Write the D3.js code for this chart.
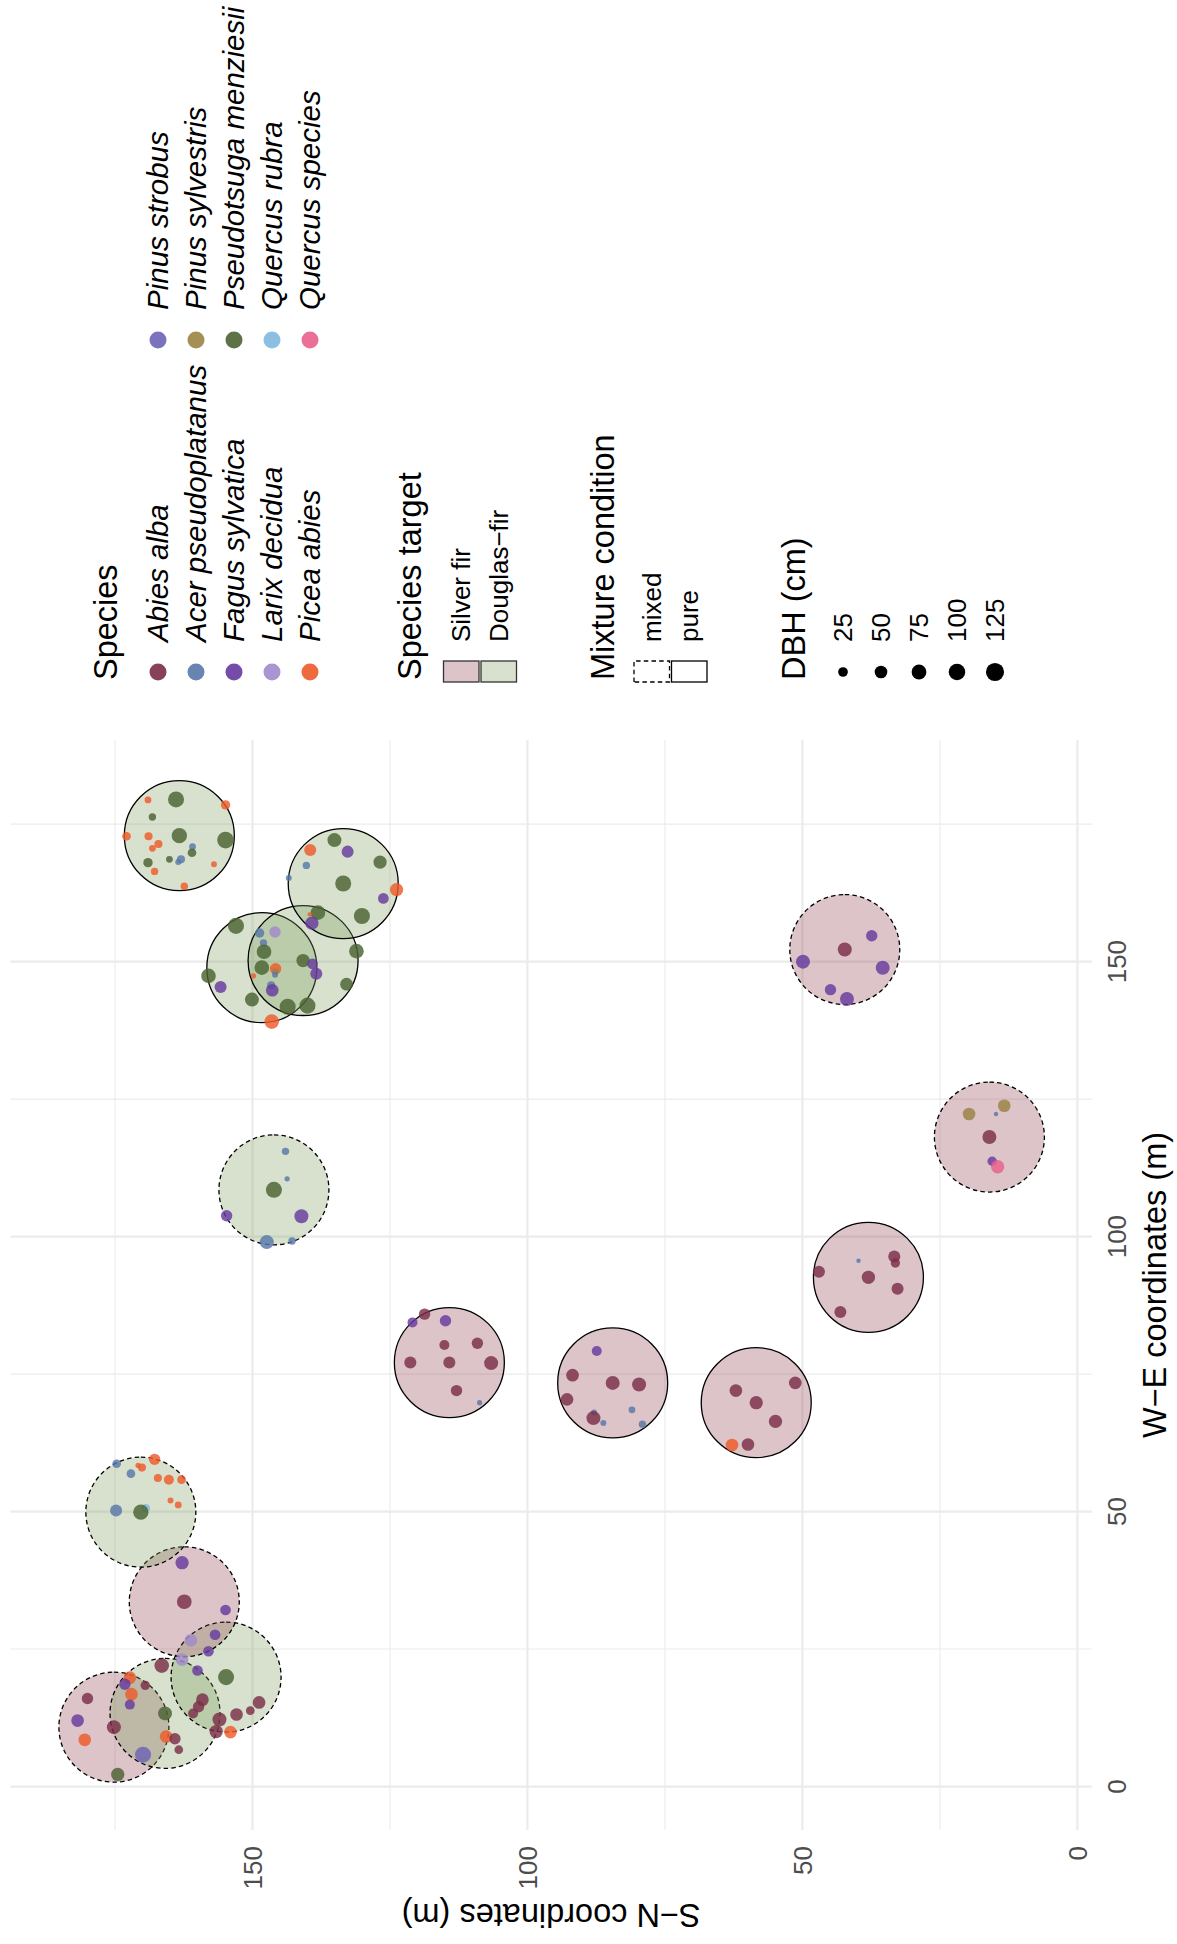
<!DOCTYPE html>
<html>
<head>
<meta charset="utf-8">
<script src="https://cdn.jsdelivr.net/npm/d3@7"></script>
<style>
  body { margin: 0; background: #fff; }
  text { font-family: "Liberation Sans", Arial, sans-serif; }
</style>
</head>
<body>
<svg id="chart"></svg>
<script>
// species legend (two columns of five)
const speciesCodes = ["ABAL", "ACPS", "FASY", "LADE", "PIAB", "PIST", "PISY", "PSME", "QURU", "QUSP"];
const speciesNames = ["Abies alba", "Acer pseudoplatanus", "Fagus sylvatica", "Larix decidua", "Picea abies",
    "Pinus strobus", "Pinus sylvestris", "Pseudotsuga menziesii", "Quercus rubra", "Quercus species"];
const speciesColors = ["#7A2E48", "#5877A8", "#663A9E", "#A08ACB", "#EE5A2A",
    "#6B63B5", "#9A8343", "#4B6332", "#7FB8DE", "#E8618C"];

const targetNames = ["Silver fir", "Douglas−fir"];
const targetFills = ["#8B3A4A", "#7A9A5A"];
const mixtureNames = ["mixed", "pure"];
const dbhBreaks = [25, 50, 75, 100, 125];
const majorTicks = [0, 50, 100, 150];
const minorTicks = [25, 75, 125, 175];

// plots: centre W-E, centre S-N, target species, mixture
const plotWE = [10.8, 13.3, 19.9, 33.6, 49.9, 77.1, 73.4, 69.8, 92.6, 118.1, 152.2, 108.5, 148.9, 150.2, 164.2, 172.9];
const plotSN = [175.2, 165.9, 154.8, 162.4, 170.3, 114.2, 84.5, 58.4, 38.0, 16.0, 42.3, 146.1, 148.3, 140.8, 133.5, 163.3];
const plotTarget = ["Silver fir", "Douglas−fir", "Douglas−fir", "Silver fir", "Douglas−fir", "Silver fir", "Silver fir",
    "Silver fir", "Silver fir", "Silver fir", "Silver fir", "Douglas−fir", "Douglas−fir", "Douglas−fir", "Douglas−fir", "Douglas−fir"];
const plotMixture = ["mixed", "mixed", "mixed", "mixed", "mixed", "pure", "pure", "pure", "pure", "mixed", "mixed",
    "mixed", "pure", "pure", "pure", "pure"];
const plotRadius = 10;

// trees: species, W-E, S-N, DBH (cm)
const trees = [
    // south-west group
    ["FASY", 40.7, 162.8, 57], ["ABAL", 33.6, 162.4, 73], ["FASY", 32.1, 154.9, 32], ["LADE", 26.6, 161.2, 50],
    ["FASY", 27.6, 156.8, 32], ["FASY", 24.6, 158.0, 32], ["LADE", 23.1, 162.8, 50], ["ABAL", 22.0, 166.5, 73],
    ["FASY", 21.1, 160.0, 32], ["PSME", 19.9, 154.8, 92], ["PIAB", 19.8, 172.3, 50], ["FASY", 18.6, 173.2, 38],
    ["ABAL", 18.4, 169.5, 23], ["PIAB", 16.8, 172.0, 50], ["ABAL", 16.0, 180.0, 38], ["FASY", 14.9, 172.3, 27],
    ["ABAL", 15.8, 159.1, 50], ["ABAL", 14.5, 159.8, 38], ["ABAL", 13.3, 160.8, 27], ["PSME", 13.3, 165.9, 65],
    ["FASY", 12.0, 181.8, 50], ["ABAL", 10.8, 175.2, 65], ["ABAL", 12.2, 156.0, 65], ["ABAL", 13.1, 152.9, 50],
    ["ABAL", 13.8, 150.4, 19], ["ABAL", 15.3, 148.8, 50], ["ABAL", 10.0, 156.6, 57], ["PIAB", 9.9, 154.0, 50],
    ["PIAB", 8.5, 180.5, 50], ["PIAB", 9.1, 165.7, 50], ["ABAL", 8.7, 164.1, 38], ["ABAL", 6.7, 163.4, 19],
    ["PIST", 5.8, 169.9, 92], ["PSME", 2.2, 174.5, 57],
    // plot at W-E 50
    ["ACPS", 58.7, 174.7, 19], ["PIAB", 59.5, 167.8, 38], ["PIAB", 58.0, 170.1, 16], ["PIAB", 58.4, 170.8, 8],
    ["ACPS", 56.9, 172.1, 19], ["PIAB", 56.1, 167.2, 16], ["PIAB", 55.8, 165.2, 27], ["PIAB", 55.8, 162.9, 19],
    ["PIAB", 52.0, 164.9, 9], ["PIAB", 51.2, 163.5, 11], ["ACPS", 50.2, 174.8, 44], ["QURU", 50.6, 169.4, 19],
    ["PSME", 49.9, 170.3, 82],
    // pure silver fir plots
    ["FASY", 84.4, 120.9, 27], ["ABAL", 85.9, 118.7, 38], ["FASY", 84.7, 114.9, 38], ["ABAL", 80.3, 115.1, 27],
    ["ABAL", 80.6, 109.1, 38], ["ABAL", 77.1, 121.3, 44], ["ABAL", 77.1, 114.2, 44], ["ABAL", 77.0, 106.6, 65],
    ["ABAL", 72.0, 112.9, 38], ["ACPS", 69.8, 108.7, 8],
    ["FASY", 79.2, 87.4, 27], ["ABAL", 74.8, 91.8, 50], ["ABAL", 73.4, 84.5, 65], ["ABAL", 73.1, 79.7, 65],
    ["ABAL", 70.4, 92.8, 50], ["ACPS", 68.0, 87.9, 9], ["ACPS", 68.5, 81.0, 11], ["ABAL", 67.0, 88.0, 65],
    ["ACPS", 66.1, 86.2, 9], ["ACPS", 65.9, 79.1, 13],
    ["ABAL", 72.0, 62.1, 50], ["ABAL", 69.8, 58.4, 57], ["ABAL", 73.4, 51.3, 50], ["ABAL", 66.4, 54.9, 57],
    ["ABAL", 62.2, 59.9, 50], ["PIAB", 62.1, 62.8, 50],
    ["ACPS", 95.6, 39.8, 7.5], ["ABAL", 96.4, 33.3, 44], ["ABAL", 95.2, 33.1, 23], ["ABAL", 93.6, 47.0, 44],
    ["ABAL", 92.6, 38.0, 57], ["ABAL", 90.5, 32.7, 44], ["ABAL", 86.3, 43.1, 44],
    // mixed silver fir plots
    ["PISY", 122.3, 19.7, 50], ["PISY", 123.8, 13.3, 50], ["ACPS", 122.3, 14.8, 7.5], ["ABAL", 118.1, 16.0, 65],
    ["FASY", 113.7, 15.5, 23], ["QUSP", 112.7, 14.5, 57],
    ["FASY", 154.7, 37.4, 38], ["ABAL", 152.2, 42.3, 65], ["FASY", 150.0, 49.9, 65], ["FASY", 148.9, 35.4, 65],
    ["FASY", 144.9, 44.9, 38], ["FASY", 143.2, 41.9, 65],
    // douglas-fir plot at W-E 108
    ["ACPS", 115.5, 144.0, 13], ["ACPS", 110.5, 143.7, 8], ["PSME", 108.5, 146.1, 92], ["FASY", 103.8, 154.7, 38],
    ["FASY", 103.7, 141.1, 65], ["ACPS", 99.0, 147.4, 65], ["ACPS", 99.2, 142.8, 13],
    // north group
    ["PIAB", 179.4, 169.0, 11], ["PSME", 179.5, 163.9, 92], ["PIAB", 178.5, 154.9, 23], ["PSME", 176.3, 168.2, 13],
    ["PIAB", 172.8, 172.9, 19], ["PIAB", 172.8, 168.9, 16], ["PSME", 172.9, 163.3, 82], ["PSME", 172.1, 154.9, 102],
    ["PIAB", 171.4, 167.1, 16], ["PIAB", 170.6, 168.2, 11], ["ACPS", 170.9, 160.9, 11], ["PSME", 169.8, 161.0, 19],
    ["ACPS", 168.6, 163.0, 16], ["ACPS", 168.1, 163.5, 9], ["PSME", 168.6, 165.1, 11], ["PSME", 168.0, 169.0, 23],
    ["PIAB", 166.4, 167.8, 13], ["PIAB", 167.7, 157.0, 9], ["PIAB", 163.7, 162.4, 13],
    ["PSME", 172.1, 135.1, 65], ["PIAB", 170.3, 139.5, 44], ["FASY", 170.0, 132.7, 44], ["ACPS", 167.5, 140.2, 13],
    ["ACPS", 165.2, 143.4, 9], ["PSME", 168.1, 126.8, 57], ["PSME", 164.2, 133.5, 92], ["PIAB", 163.1, 123.8, 57],
    ["FASY", 161.5, 126.2, 32], ["PSME", 158.3, 130.1, 92], ["PSME", 158.9, 138.1, 73], ["PIAB", 158.6, 139.6, 7.5],
    ["FASY", 157.0, 139.2, 57],
    ["PSME", 156.5, 153.0, 92], ["ACPS", 155.2, 148.7, 23], ["LADE", 155.4, 145.9, 38], ["ACPS", 153.4, 148.0, 13],
    ["PSME", 151.8, 147.9, 73], ["PSME", 150.2, 140.8, 57], ["FASY", 149.6, 139.1, 32], ["FASY", 147.8, 138.4, 44],
    ["PSME", 151.9, 131.1, 73], ["PSME", 148.9, 148.3, 73], ["PIAB", 148.7, 145.8, 38], ["PISY", 148.2, 145.8, 11],
    ["ACPS", 147.6, 145.9, 9], ["PIAB", 147.4, 149.8, 8], ["PSME", 147.4, 158.0, 73], ["FASY", 145.4, 155.8, 44],
    ["ACPS", 145.7, 146.6, 16], ["FASY", 144.8, 146.4, 50], ["PSME", 145.9, 132.9, 50], ["PSME", 143.1, 150.1, 65],
    ["PSME", 141.8, 143.6, 92], ["PSME", 142.0, 140.0, 92], ["PIAB", 139.1, 146.5, 73]
];

// the chart is laid out unrotated, then turned a quarter left
const W = 1944, H = 1177;
const panel = { left: 114, right: 1204, top: 10.5, bottom: 1091.7 };

const svg = d3.select("#chart")
    .attr("width", H)
    .attr("height", W);

svg.append("rect").attr("width", H).attr("height", W).attr("fill", "#fff");

const g = svg.append("g")
    .attr("transform", `translate(0,${W}) rotate(-90)`);

const x = d3.scaleLinear().domain([-7.9, 190.3]).range([panel.left, panel.right]);   // W-E
const y = d3.scaleLinear().domain([-2.6, 194.0]).range([panel.bottom, panel.top]);   // S-N
const unit = x(1) - x(0);

// size like ggplot's area palette
const sizeSqrt = d3.scaleSqrt().domain([0, 122.5]).range([0, 7]);
const rSize = d => 2.2 + sizeSqrt(Math.max(0, d - 7.5));

const colorOf = d3.scaleOrdinal().domain(speciesCodes).range(speciesColors);
const fillOf = d3.scaleOrdinal().domain(targetNames).range(targetFills);
const dashOf = d3.scaleOrdinal().domain(mixtureNames).range(["4.5,3.2", null]);

// grid
const grid = g.append("g");
minorTicks.forEach(t => {
    grid.append("line").attr("x1", x(t)).attr("x2", x(t)).attr("y1", panel.top).attr("y2", panel.bottom)
        .attr("stroke", "#ebebeb").attr("stroke-width", 1.1);
    grid.append("line").attr("y1", y(t)).attr("y2", y(t)).attr("x1", panel.left).attr("x2", panel.right)
        .attr("stroke", "#ebebeb").attr("stroke-width", 1.1);
});
majorTicks.forEach(t => {
    grid.append("line").attr("x1", x(t)).attr("x2", x(t)).attr("y1", panel.top).attr("y2", panel.bottom)
        .attr("stroke", "#ebebeb").attr("stroke-width", 2.2);
    grid.append("line").attr("y1", y(t)).attr("y2", y(t)).attr("x1", panel.left).attr("x2", panel.right)
        .attr("stroke", "#ebebeb").attr("stroke-width", 2.2);
});

// plot circles
const plots = plotWE.map((we, i) => ({ we: we, sn: plotSN[i], target: plotTarget[i], mix: plotMixture[i] }));
g.append("g").selectAll("circle")
    .data(plots)
    .enter().append("circle")
    .attr("cx", d => x(d.we))
    .attr("cy", d => y(d.sn))
    .attr("r", plotRadius * unit)
    .attr("fill", d => fillOf(d.target))
    .attr("fill-opacity", 0.3)
    .attr("stroke", "#000")
    .attr("stroke-width", 1.3)
    .attr("stroke-dasharray", d => dashOf(d.mix));

// trees
g.append("g").selectAll("circle")
    .data(trees)
    .enter().append("circle")
    .attr("cx", d => x(d[1]))
    .attr("cy", d => y(d[2]))
    .attr("r", d => rSize(d[3]))
    .attr("fill", d => colorOf(d[0]))
    .attr("fill-opacity", 0.82);

// axes text
const axisText = g.append("g").attr("fill", "#4d4d4d").style("font-size", "26px");
majorTicks.forEach(t => {
    axisText.append("text").attr("x", x(t)).attr("y", 1126).attr("text-anchor", "middle").text(t);
    axisText.append("text").attr("x", 98).attr("y", y(t)).attr("dy", "0.35em").attr("text-anchor", "end").text(t);
});

g.append("text")
    .attr("x", (panel.left + panel.right) / 2)
    .attr("y", 1166)
    .attr("text-anchor", "middle")
    .style("font-size", "32.5px")
    .text("W−E coordinates (m)");

g.append("text")
    .attr("transform", `translate(40,${(panel.top + panel.bottom) / 2}) rotate(-90)`)
    .attr("text-anchor", "middle")
    .style("font-size", "32.5px")
    .text("S−N coordinates (m)");

// legends
const leg = g.append("g");
const legX = 1264, keyX = 1272, labelGap = 30, rowH = 37.5;

function legendTitle(text, baseline) {
    leg.append("text").attr("x", legX).attr("y", baseline).style("font-size", "32.5px").text(text);
}
function legendLabel(text, lx, cy, italic) {
    leg.append("text").attr("x", lx).attr("y", cy).attr("dy", "0.35em")
        .style("font-size", italic ? "29.5px" : "26px")
        .style("font-style", italic ? "italic" : "normal").text(text);
}

legendTitle("Species", 117);
const col2X = 1604;
speciesNames.forEach((name, i) => {
    const cx = i < 5 ? keyX : col2X;
    const cy = 158 + (i % 5) * 38;
    leg.append("circle").attr("cx", cx).attr("cy", cy).attr("r", 8.5)
        .attr("fill", speciesColors[i]).attr("fill-opacity", 0.9);
    legendLabel(name, cx + labelGap, cy, true);
});

legendTitle("Species target", 421);
targetNames.forEach((name, i) => {
    const top = 443.5 + i * rowH;
    leg.append("rect").attr("x", 1262).attr("y", top).attr("width", 21).attr("height", rowH - 2)
        .attr("fill", targetFills[i]).attr("fill-opacity", 0.3)
        .attr("stroke", "#333").attr("stroke-width", 1.3);
    legendLabel(name, keyX + labelGap, top + (rowH - 2) / 2, false);
});

legendTitle("Mixture condition", 614);
mixtureNames.forEach((name, i) => {
    const top = 634 + i * rowH;
    leg.append("rect").attr("x", 1262).attr("y", top).attr("width", 21).attr("height", rowH - 2)
        .attr("fill", "#fff")
        .attr("stroke", "#000").attr("stroke-width", 1.3)
        .attr("stroke-dasharray", dashOf(name));
    legendLabel(name, keyX + labelGap, top + (rowH - 2) / 2, false);
});

legendTitle("DBH (cm)", 805);
dbhBreaks.forEach((b, i) => {
    const cy = 843 + i * 38;
    leg.append("circle").attr("cx", keyX).attr("cy", cy).attr("r", rSize(b)).attr("fill", "#000");
    legendLabel(b, keyX + labelGap, cy, false);
});
</script>
</body>
</html>
